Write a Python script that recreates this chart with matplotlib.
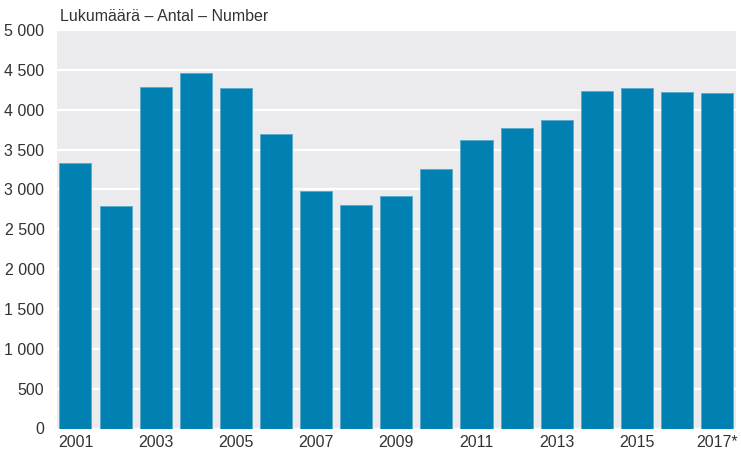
import matplotlib
matplotlib.use("Agg")
import matplotlib.pyplot as plt
from matplotlib.ticker import FuncFormatter, MultipleLocator

years = [str(y) for y in range(2001, 2017)] + ["2017*"]
values = [3330, 2795, 4285, 4455, 4270, 3695, 2980, 2805, 2915, 3255,
          3620, 3770, 3870, 4240, 4275, 4220, 4210]
title = "Lukumäärä – Antal – Number"

plt.rcParams['font.family'] = ['Liberation Sans', 'DejaVu Sans']
text_color = '#333333'

fig = plt.figure(figsize=(7.41, 4.51), dpi=100)
ax = fig.add_axes([57/741, 22.5/451, (736-57)/741, (428.5-30)/451])
ax.set_facecolor('#EBEBED')

x = list(range(len(years)))
ax.bar(x, values, width=0.8, color='#0081B1', edgecolor='#5AA9CB', linewidth=0.6, zorder=3)

ax.set_xlim(-0.46, len(years) - 1 + 0.47)
ax.set_ylim(0, 5000)
ax.yaxis.set_major_locator(MultipleLocator(500))
ax.yaxis.set_major_formatter(FuncFormatter(lambda v, p: f"{int(v):,}".replace(",", " ")))
ax.grid(axis='y', color='white', linewidth=1.6, zorder=1)
ax.set_axisbelow(True)

ax.set_xticks(x)
ax.set_xticklabels([lab if i % 2 == 0 else "" for i, lab in enumerate(years)])

for s in ax.spines.values():
    s.set_visible(False)
ax.tick_params(axis='both', length=0, labelsize=11.5, labelcolor=text_color)
ax.tick_params(axis='y', pad=9)
ax.tick_params(axis='x', pad=5)

fig.text(60/741, 1 - 21/451, title, fontsize=11.5, color=text_color, ha='left', va='baseline')

fig.savefig("out.png", dpi=100)
